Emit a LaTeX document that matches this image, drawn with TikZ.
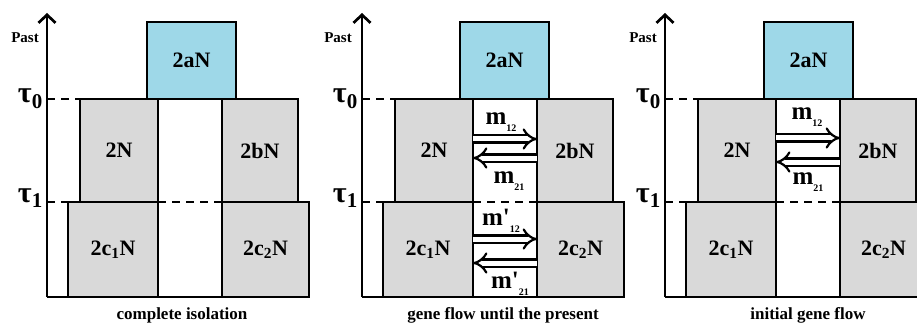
\documentclass[tikz,border=0pt]{standalone}
\usepackage{fontspec}
\setmainfont{Liberation Serif}
\usetikzlibrary{arrows.meta}
\definecolor{popgray}{RGB}{217,217,217}
\definecolor{ancblue}{RGB}{158,216,232}
% migration rate label: m, optional prime, small subscript
\newcommand{\mrate}[2]{m#2\raisebox{-0.3em}{\fontsize{10}{10}\selectfont #1}}
\begin{document}
\begin{tikzpicture}[x=1pt, y=1pt,
    pop/.style={draw, line width=2.7pt, fill=popgray, inner sep=0pt, outer sep=0pt, font=\fontsize{22}{26}\selectfont\bfseries},
    anc/.style={pop, fill=ancblue},
    timeax/.style={line width=2.7pt, -{Straight Barb[length=8pt, width=17pt, line width=2.7pt]}},
    base/.style={line width=2.7pt},
    tdash/.style={line width=2.7pt, dash pattern=on 8pt off 6pt},
    mig/.style={double, double distance=5pt, line width=2.2pt, -{Implies[length=9pt, width=19pt]}},
    tau/.style={font=\fontsize{30}{32}\selectfont\bfseries, inner sep=0pt},
    past/.style={font=\fontsize{15}{18}\selectfont\bfseries},
    rate/.style={font=\fontsize{25}{27}\selectfont\bfseries},
    panelcap/.style={font=\fontsize{17}{20}\selectfont\bfseries},
]
\path[use as bounding box, clip] (0,0) rectangle (917,327);

% Panel 1: complete isolation
\begin{scope}[xshift=47]
\coordinate (o1) at (0,30);
\coordinate (t1) at (0,314);
\node[pop, minimum width=78, minimum height=103] (left1) at (72,176.5) {2N};
\node[pop, minimum width=76, minimum height=103] (right1) at (213,176.5) {2bN};
\node[pop, minimum width=90, minimum height=95] (lowl1) at (66,77.5) {2c\textsubscript{1}N};
\node[pop, minimum width=87, minimum height=95] (lowr1) at (218.5,77.5) {2c\textsubscript{2}N};
\node[anc, minimum width=89, minimum height=77] (anc1) at (144.5,266.5) {2aN};
\draw[base] (left1.north east) -- (right1.north west);
\draw[timeax] (o1) -- (t1);
\draw[base] (o1) -- (lowr1.south east);
\draw[tdash] (o1 |- left1.north) -- (left1.north west);
\draw[tdash] (o1 |- lowl1.north) -- (lowl1.north west);
\draw[tdash] (left1.south east) -- (right1.south west);
\node[past] (past1) at (-22,289) {Past};
\node[tau, anchor=base east] (tz1) at (-4,224) {τ\textsubscript{0}};
\node[tau, anchor=base east] (to1) at (-4,125) {τ\textsubscript{1}};
\node[panelcap] (cap1) at (135,12) {complete isolation};
\end{scope}

% Panel 2: gene flow until the present
\begin{scope}[xshift=362]
\coordinate (o2) at (0,30);
\coordinate (t2) at (0,314);
\node[pop, minimum width=78, minimum height=103] (left2) at (72,176.5) {2N};
\node[pop, minimum width=76, minimum height=103] (right2) at (213,176.5) {2bN};
\node[pop, minimum width=90, minimum height=95] (lowl2) at (66,77.5) {2c\textsubscript{1}N};
\node[pop, minimum width=87, minimum height=95] (lowr2) at (218.5,77.5) {2c\textsubscript{2}N};
\node[anc, minimum width=89, minimum height=77] (anc2) at (142.5,266.5) {2aN};
\draw[base] (left2.north east) -- (right2.north west);
\draw[timeax] (o2) -- (t2);
\draw[base] (o2) -- (lowr2.south east);
\draw[tdash] (o2 |- left2.north) -- (left2.north west);
\draw[tdash] (o2 |- lowl2.north) -- (lowl2.north west);
\draw[tdash] (left2.south east) -- (right2.south west);
\draw[mig] ([yshift=11.5]left2.east) -- ([yshift=11.5]right2.west);
\draw[mig] ([yshift=-7.5]right2.west) -- ([yshift=-7.5]left2.east);
\draw[mig] ([yshift=10.5]lowl2.east) -- ([yshift=10.5]lowr2.west);
\draw[mig] ([yshift=-13.5]lowr2.west) -- ([yshift=-13.5]lowl2.east);
\node[rate] (m12b) at (139,205) {\mrate{12}{}};
\node[rate] (m21b) at (147,146) {\mrate{21}{}};
\node[rate] (n12b) at (139,106) {\mrate{12}{\textquotesingle}};
\node[rate] (n21b) at (148,43) {\mrate{21}{\textquotesingle}};
\node[past] (past2) at (-24,289) {Past};
\node[tau, anchor=base east] (tz2) at (-4,224) {τ\textsubscript{0}};
\node[tau, anchor=base east] (to2) at (-4,125) {τ\textsubscript{1}};
\node[panelcap] (cap2) at (141,12) {gene flow until the present};
\end{scope}

% Panel 3: initial gene flow
\begin{scope}[xshift=665]
\coordinate (o3) at (0,30);
\coordinate (t3) at (0,314);
\node[pop, minimum width=78, minimum height=103] (left3) at (72,176.5) {2N};
\node[pop, minimum width=76, minimum height=103] (right3) at (213,176.5) {2bN};
\node[pop, minimum width=90, minimum height=95] (lowl3) at (66,77.5) {2c\textsubscript{1}N};
\node[pop, minimum width=87, minimum height=95] (lowr3) at (218.5,77.5) {2c\textsubscript{2}N};
\node[anc, minimum width=89, minimum height=77] (anc3) at (143.5,266.5) {2aN};
\draw[base] (left3.north east) -- (right3.north west);
\draw[timeax] (o3) -- (t3);
\draw[base] (o3) -- (lowr3.south east);
\draw[tdash] (o3 |- left3.north) -- (left3.north west);
\draw[tdash] (o3 |- lowl3.north) -- (lowl3.north west);
\draw[tdash] (left3.south east) -- (right3.south west);
\draw[mig] ([yshift=12.5]left3.east) -- ([yshift=12.5]right3.west);
\draw[mig] ([yshift=-11.5]right3.west) -- ([yshift=-11.5]left3.east);
\node[rate] (m12c) at (142,210) {\mrate{12}{}};
\node[rate] (m21c) at (143,145) {\mrate{21}{}};
\node[past] (past3) at (-22,289) {Past};
\node[tau, anchor=base east] (tz3) at (-4,224) {τ\textsubscript{0}};
\node[tau, anchor=base east] (to3) at (-4,125) {τ\textsubscript{1}};
\node[panelcap] (cap3) at (143,12) {initial gene flow};
\end{scope}
\end{tikzpicture}
\end{document}
